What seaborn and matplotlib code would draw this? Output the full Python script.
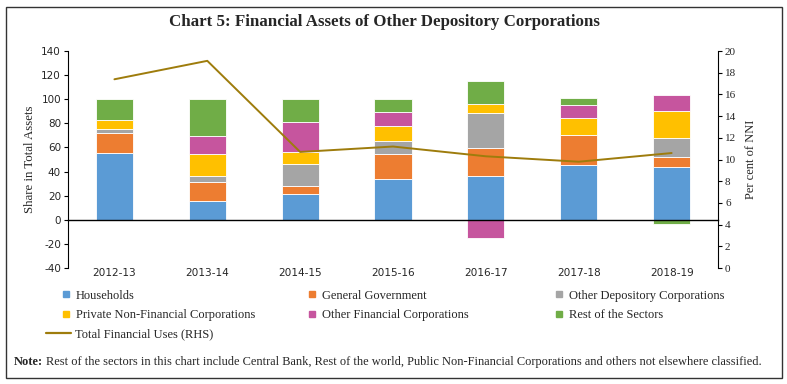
import numpy as np
import seaborn as sns
import matplotlib.pyplot as plt
from matplotlib.lines import Line2D
from matplotlib.patches import Rectangle

years = ["2012-13", "2013-14", "2014-15", "2015-16", "2016-17", "2017-18", "2018-19"]
households = [55.2, 15.4, 21.2, 33.6, 36.1, 45.2, 43.6]
general_govt = [16.5, 15.8, 6.6, 20.8, 23.5, 25.2, 8.8]
other_depository = [3.3, 5.3, 18.8, 10.7, 28.7, 0.0, 15.8]
private_nfc = [7.8, 18.2, 10.0, 12.8, 7.8, 13.8, 21.8]
other_financial = [0.0, 14.6, 24.3, 11.3, -15.0, 11.2, 13.6]
rest_sectors = [17.2, 30.7, 19.1, 10.8, 18.7, 5.6, -3.3]
total_fin_uses = [17.4, 19.1, 10.7, 11.2, 10.3, 9.8, 10.6]

series_names = ["Households", "General Government", "Other Depository Corporations",
                "Private Non-Financial Corporations", "Other Financial Corporations",
                "Rest of the Sectors"]
series_vals = [households, general_govt, other_depository, private_nfc,
               other_financial, rest_sectors]
colors = ["#5B9BD5", "#ED7D31", "#A5A5A5", "#FFC000", "#C6559E", "#70AD47"]
line_color = "#9E7C0C"

sns.set_theme(style="white")
plt.rcParams["font.family"] = ["Liberation Serif", "DejaVu Serif"]
plt.rcParams["axes.unicode_minus"] = False

fig = plt.figure(figsize=(7.87, 3.84), dpi=100)
ax = fig.add_axes([0.0864, 0.302, 0.826, 0.565])

x = np.arange(len(years))
pos_bottom = np.zeros(len(years))
neg_bottom = np.zeros(len(years))
for name, vals, col in zip(series_names, series_vals, colors):
    v = np.array(vals)
    bottoms = np.where(v >= 0, pos_bottom, neg_bottom)
    ax.bar(x, v, bottom=bottoms, width=0.4, color=col, edgecolor="white",
           linewidth=0.6, label=name, zorder=2)
    pos_bottom += np.where(v >= 0, v, 0)
    neg_bottom += np.where(v < 0, v, 0)

ax.set_xlim(-0.5, len(years) - 0.5)
ax.set_ylim(-40, 140)
ax.set_yticks(range(-40, 141, 20))
ax.set_ylabel("Share in Total Assets", fontsize=9.3, labelpad=4)
for s in ["top", "right"]:
    ax.spines[s].set_visible(False)
ax.spines["bottom"].set_position(("data", 0))
ax.spines["bottom"].set_color("black")
ax.spines["bottom"].set_linewidth(1.0)
ax.spines["left"].set_color("black")
ax.spines["left"].set_linewidth(0.8)
ax.set_xticks(x)
ax.set_xticklabels(years, fontsize=7.6, family="DejaVu Sans")
ax.set_xticks(np.arange(-0.5, len(years), 1.0), minor=True)
ax.tick_params(axis="x", which="major", length=0, pad=35)
ax.tick_params(axis="x", which="minor", length=3, direction="out", color="black", width=0.8)
ax.tick_params(axis="y", length=3, direction="out", color="black", width=0.8,
               labelsize=7.5, pad=2, left=True)
for lab in ax.get_yticklabels():
    lab.set_family("DejaVu Sans")

ax2 = ax.twinx()
sns.lineplot(x=x, y=total_fin_uses, ax=ax2, color=line_color, linewidth=1.4,
             label="Total Financial Uses (RHS)", legend=False)
ax2.set_ylim(0, 20)
ax2.set_yticks(range(0, 21, 2))
ax2.set_ylabel("Per cent of NNI", fontsize=9, labelpad=6)
for s in ["top", "left", "bottom"]:
    ax2.spines[s].set_visible(False)
ax2.spines["right"].set_color("black")
ax2.spines["right"].set_linewidth(0.8)
ax2.tick_params(axis="y", length=3, direction="out", color="black", width=0.8,
                labelsize=8, pad=2, right=True)
ax2.grid(False)
ax.grid(False)

# legend laid out in three explicit columns plus the line entry
sq = lambda c: Line2D([], [], marker="s", linestyle="none", markersize=5,
                      markerfacecolor=c, markeredgecolor=c)
cols = [([0, 3], 0.079), ([1, 4], 0.392), ([2, 5], 0.706)]
for idx, xpos in cols:
    fig.legend([sq(colors[i]) for i in idx], [series_names[i] for i in idx],
               loc="center left", bbox_to_anchor=(xpos, 0.2044), frameon=False,
               fontsize=9, handlelength=0.6, handletextpad=0.5,
               labelspacing=0.62, borderaxespad=0, borderpad=0)
fig.legend([Line2D([], [], color=line_color, linewidth=1.6)], ["Total Financial Uses (RHS)"],
           loc="center left", bbox_to_anchor=(0.059, 0.130), frameon=False,
           fontsize=9, handlelength=2.0, handletextpad=0.3, borderaxespad=0, borderpad=0)

fig.text(0.489, 0.943, "Chart 5: Financial Assets of Other Depository Corporations",
         ha="center", va="center", fontsize=12.2, fontweight="bold")
fig.text(0.017, 0.057, "Note:", ha="left", va="center", fontsize=9, fontweight="bold")
fig.text(0.058, 0.057, "Rest of the sectors in this chart include Central Bank, Rest of the world, "
         "Public Non-Financial Corporations and others not elsewhere classified.",
         ha="left", va="center", fontsize=8.9)

fig.patches.append(Rectangle((0.007, 0.016), 0.987, 0.965, transform=fig.transFigure,
                             fill=False, edgecolor="#333333", linewidth=1.0))

plt.savefig("out.png", dpi=100)
plt.close()
